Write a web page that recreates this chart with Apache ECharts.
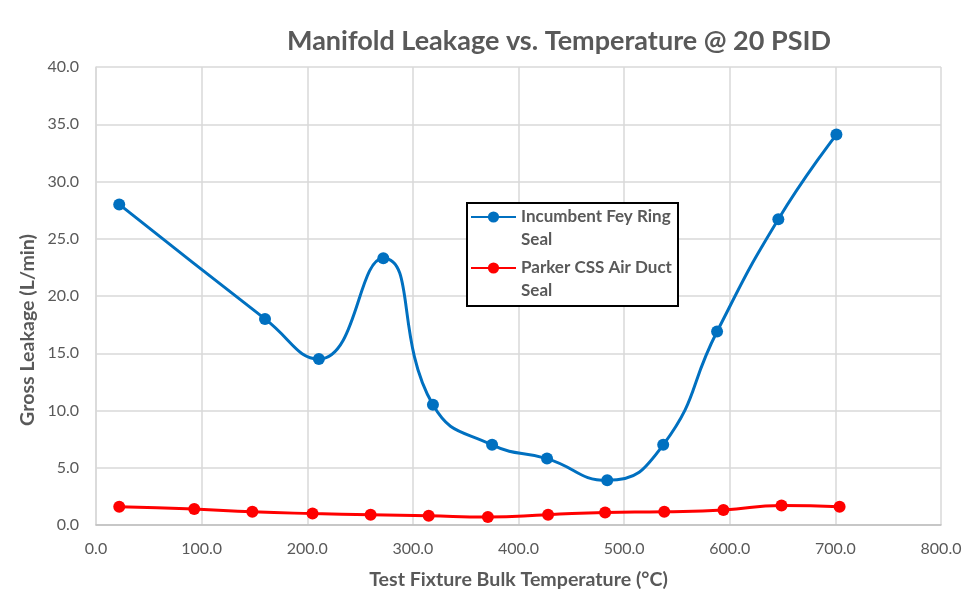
<!DOCTYPE html>
<html>
<head>
    <meta charset="utf-8">
    <title>Manifold Leakage</title>
    <script type="text/javascript" src="https://cdn.jsdelivr.net/npm/echarts@6/dist/echarts.min.js"></script>
    <style>
        html, body { margin: 0; padding: 0; background: #fff; }
    </style>
</head>
<body>
<div id="main" style="width: 974px;height:604px;"></div>
<script type="text/javascript">
    // readings taken off the reference chart
    var feyTemp = [22, 160, 211, 272, 319, 375, 427, 484, 537, 588, 646, 701];
    var feyLeak = [28.0, 18.0, 14.5, 23.3, 10.5, 7.0, 5.8, 3.9, 7.0, 16.9, 26.7, 34.1];
    var parkerTemp = [22, 93, 148, 205, 260, 315, 371, 428, 482, 538, 594, 649, 704];
    var parkerLeak = [1.6, 1.4, 1.15, 1.0, 0.9, 0.8, 0.7, 0.9, 1.1, 1.15, 1.3, 1.7, 1.6];
    var seriesNames = ['Incumbent Fey Ring Seal', 'Parker CSS Air Duct Seal'];
    // leading empty line keeps the first text line level with the legend icon
    var legendLabels = ['\nIncumbent Fey Ring\nSeal', '\nParker CSS Air Duct\nSeal'];

    function pairs(xs, ys) {
        var out = [];
        for (let i in xs) {
            out.push([xs[i], ys[i]]);
        }
        return out;
    }

    var grey = '#595959';
    var font = 'Lato';

    var myChart = echarts.init(document.getElementById('main'));
    var option = {
        animation: false,
        title: {
            text: 'Manifold Leakage vs. Temperature @ 20 PSID',
            left: 282,
            top: 23,
            textStyle: {
                fontFamily: font,
                fontSize: 27,
                fontWeight: 'bold',
                color: grey
            }
        },
        grid: {
            left: 96,
            right: 33,
            top: 67,
            bottom: 79
        },
        graphic: [{
            type: 'rect',
            z: 3,
            shape: {x: 467, y: 203, width: 211, height: 103},
            style: {fill: '#fff', stroke: '#000', lineWidth: 2}
        }, {
            // y axis title sits a bit below the plot centre in the original
            type: 'text',
            x: 28,
            y: 330,
            rotation: Math.PI / 2,
            style: {
                text: 'Gross Leakage (L/min)',
                align: 'center',
                verticalAlign: 'middle',
                fontFamily: font,
                fontSize: 19.6,
                fontWeight: 'bold',
                fill: grey
            }
        }],
        legend: {
            orient: 'vertical',
            left: 470,
            top: 182.5,
            padding: 0,
            z: 5,
            itemGap: -18,
            itemWidth: 45,
            itemHeight: 14,
            data: seriesNames,
            formatter: function (name) {
                return legendLabels[seriesNames.indexOf(name)];
            },
            textStyle: {
                fontFamily: font,
                fontSize: 17,
                fontWeight: 'bold',
                color: grey,
                lineHeight: 23
            }
        },
        xAxis: {
            type: 'value',
            min: 0,
            max: 800,
            interval: 100,
            name: 'Test Fixture Bulk Temperature (°C)',
            nameLocation: 'middle',
            nameGap: 45,
            nameTextStyle: {
                fontFamily: font,
                fontSize: 19.6,
                fontWeight: 'bold',
                color: grey
            },
            axisLine: {lineStyle: {color: '#bfbfbf', width: 1.5}},
            axisTick: {show: false},
            axisLabel: {
                fontFamily: font,
                fontSize: 16,
                color: grey,
                margin: 16,
                formatter: function (v) { return v.toFixed(1); }
            },
            splitLine: {show: true, lineStyle: {color: '#d9d9d9', width: 1.5}}
        },
        yAxis: {
            type: 'value',
            min: 0,
            max: 40,
            interval: 5,
            axisLine: {show: true, lineStyle: {color: '#d9d9d9', width: 1.5}},
            axisTick: {show: false},
            axisLabel: {
                fontFamily: font,
                fontSize: 16,
                color: grey,
                margin: 17,
                formatter: function (v) { return v.toFixed(1); }
            },
            splitLine: {show: true, lineStyle: {color: '#d9d9d9', width: 1.5}}
        },
        series: [{
            type: 'line',
            name: seriesNames[0],
            data: pairs(feyTemp, feyLeak),
            smooth: 0.5,
            symbol: 'circle',
            symbolSize: 12,
            itemStyle: {color: '#0070c0'},
            lineStyle: {color: '#0070c0', width: 3}
        }, {
            type: 'line',
            name: seriesNames[1],
            data: pairs(parkerTemp, parkerLeak),
            smooth: 0.5,
            symbol: 'circle',
            symbolSize: 12,
            itemStyle: {color: '#ff0000'},
            lineStyle: {color: '#ff0000', width: 3}
        }]
    };
    myChart.setOption(option);
</script>
</body>
</html>
